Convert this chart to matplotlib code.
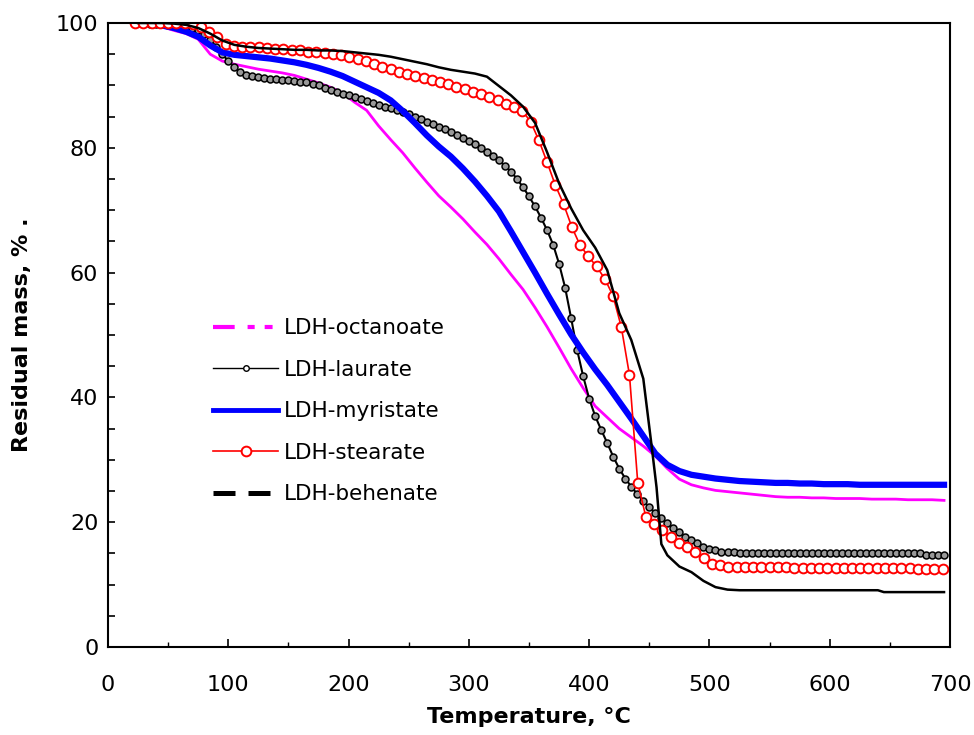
import matplotlib.pyplot as plt
from matplotlib.lines import Line2D
from matplotlib.ticker import MultipleLocator

# LDH-octanoate
oct_temp = [25, 35, 45, 55, 65, 75, 85, 95, 105, 115, 125, 135, 145, 155, 165, 175, 185, 195,
            205, 215, 225, 235, 245, 255, 265, 275, 285, 295, 305, 315, 325, 335, 345, 355,
            365, 375, 385, 395, 405, 415, 425, 435, 445, 455, 465, 475, 485, 495, 505, 515,
            525, 535, 545, 555, 565, 575, 585, 595, 605, 615, 625, 635, 645, 655, 665, 675,
            685, 695]
oct_mass = [100, 99.9, 99.4, 98.8, 98.3, 97.4, 95.0, 93.9, 93.4, 93.0, 92.6, 92.3, 92.0, 91.6,
            91.0, 90.4, 89.7, 88.8, 87.3, 86.0, 83.5, 81.3, 79.2, 76.8, 74.5, 72.3, 70.5, 68.6,
            66.5, 64.5, 62.2, 59.7, 57.3, 54.4, 51.3, 48.0, 44.6, 41.5, 38.6, 36.8, 35.0, 33.6,
            32.2, 30.6, 28.6, 26.9, 26.0, 25.5, 25.1, 24.9, 24.7, 24.5, 24.3, 24.1, 24.0, 24.0,
            23.9, 23.9, 23.8, 23.8, 23.8, 23.7, 23.7, 23.7, 23.6, 23.6, 23.6, 23.5]

# LDH-laurate
lau_temp = [25, 30, 35, 40, 45, 50, 55, 60, 65, 70, 75, 80, 85, 90, 95, 100, 105, 110, 115, 120,
            125, 130, 135, 140, 145, 150, 155, 160, 165, 170, 175, 180, 185, 190, 195, 200, 205,
            210, 215, 220, 225, 230, 235, 240, 245, 250, 255, 260, 265, 270, 275, 280, 285, 290,
            295, 300, 305, 310, 315, 320, 325, 330, 335, 340, 345, 350, 355, 360, 365, 370, 375,
            380, 385, 390, 395, 400, 405, 410, 415, 420, 425, 430, 435, 440, 445, 450, 455, 460,
            465, 470, 475, 480, 485, 490, 495, 500, 505, 510, 515, 520, 525, 530, 535, 540, 545,
            550, 555, 560, 565, 570, 575, 580, 585, 590, 595, 600, 605, 610, 615, 620, 625, 630,
            635, 640, 645, 650, 655, 660, 665, 670, 675, 680, 685, 690, 695]
lau_mass = [100, 100, 99.9, 99.9, 99.8, 99.7, 99.6, 99.5, 99.4, 99.2, 98.8, 98.2, 97.3, 96.2,
            95.0, 93.9, 92.9, 92.1, 91.7, 91.5, 91.3, 91.2, 91.1, 91.0, 90.9, 90.8, 90.7, 90.6,
            90.5, 90.3, 90.0, 89.6, 89.3, 89.0, 88.7, 88.4, 88.1, 87.8, 87.5, 87.2, 86.9, 86.6,
            86.3, 86.0, 85.7, 85.4, 85.0, 84.6, 84.2, 83.8, 83.4, 83.0, 82.6, 82.1, 81.6, 81.1,
            80.6, 80.0, 79.4, 78.7, 78.0, 77.1, 76.2, 75.0, 73.7, 72.2, 70.6, 68.8, 66.8, 64.5,
            61.4, 57.6, 52.7, 47.6, 43.4, 39.8, 37.0, 34.8, 32.7, 30.5, 28.6, 27.0, 25.7, 24.5,
            23.4, 22.4, 21.5, 20.6, 19.8, 19.1, 18.4, 17.7, 17.1, 16.6, 16.1, 15.7, 15.5, 15.3,
            15.2, 15.2, 15.1, 15.1, 15.1, 15.1, 15.1, 15.1, 15.1, 15.1, 15.1, 15.1, 15.1, 15.1,
            15.1, 15.1, 15.1, 15.1, 15.1, 15.1, 15.1, 15.1, 15.1, 15.1, 15.1, 15.1, 15.1, 15.1,
            15.1, 15.1, 15.1, 15.1, 15.0, 14.8, 14.8, 14.8, 14.7]

# LDH-myristate
myr_temp = oct_temp
myr_mass = [100, 99.9, 99.6, 99.2, 98.6, 97.8, 96.4, 95.3, 94.9, 94.7, 94.5, 94.3, 94.0, 93.7,
            93.3, 92.8, 92.2, 91.5, 90.6, 89.7, 88.8, 87.6, 85.9, 84.0, 82.0, 80.2, 78.6, 76.7,
            74.6, 72.3, 69.8, 66.6, 63.3, 60.0, 56.6, 53.3, 50.1, 47.2, 44.5, 42.0, 39.3, 36.6,
            33.8, 31.0, 29.2, 28.2, 27.6, 27.3, 27.0, 26.8, 26.6, 26.5, 26.4, 26.3, 26.3, 26.2,
            26.2, 26.1, 26.1, 26.1, 26.0, 26.0, 26.0, 26.0, 26.0, 26.0, 26.0, 26.0]

# LDH-stearate
ste_temp = [22.5, 29.4, 36.2, 43.1, 49.9, 56.8, 63.6, 70.5, 77.3, 84.2, 91.0, 97.9, 104.7, 111.6,
            118.4, 125.3, 132.1, 139.0, 145.8, 152.7, 159.5, 166.4, 173.2, 180.1, 186.9, 193.8,
            200.6, 207.5, 214.3, 221.2, 228.0, 234.9, 241.7, 248.6, 255.4, 262.3, 269.1, 276.0,
            282.8, 289.7, 296.5, 303.4, 310.2, 317.1, 323.9, 330.8, 337.6, 344.5, 351.3, 358.2,
            365.0, 371.9, 378.7, 385.6, 392.4, 399.3, 406.1, 413.0, 419.8, 426.7, 433.5, 440.4,
            447.2, 454.1, 460.9, 467.8, 474.6, 481.5, 488.3, 495.2, 502.0, 508.9, 515.7, 522.6,
            529.4, 536.3, 543.1, 550.0, 556.8, 563.7, 570.5, 577.4, 584.2, 591.1, 597.9, 604.8,
            611.6, 618.5, 625.3, 632.2, 639.0, 645.9, 652.7, 659.6, 666.4, 673.3, 680.1, 687.0,
            693.8]
ste_mass = [100, 100, 100, 100, 100, 100, 100, 99.8, 99.4, 98.6, 97.7, 96.7, 96.3, 96.2, 96.2,
            96.1, 96.0, 95.9, 95.8, 95.7, 95.6, 95.4, 95.3, 95.2, 95.1, 94.9, 94.6, 94.3, 93.9,
            93.4, 93.0, 92.6, 92.2, 91.8, 91.5, 91.2, 90.9, 90.6, 90.2, 89.8, 89.4, 89.0, 88.6,
            88.1, 87.6, 87.0, 86.6, 85.9, 84.2, 81.2, 77.7, 74.0, 71.0, 67.3, 64.4, 62.6, 61.0,
            59.0, 56.3, 51.3, 43.6, 26.3, 20.8, 19.7, 18.8, 17.6, 16.7, 16.0, 15.2, 14.3, 13.3,
            13.1, 12.9, 12.8, 12.8, 12.8, 12.8, 12.8, 12.8, 12.8, 12.7, 12.7, 12.7, 12.7, 12.7,
            12.7, 12.7, 12.7, 12.7, 12.6, 12.6, 12.6, 12.6, 12.6, 12.6, 12.5, 12.5, 12.5, 12.5]

# LDH-behenate
beh_temp = [25, 35, 45, 55, 65, 75, 85, 95, 105, 115, 125, 135, 145, 155, 165, 175, 185, 195,
            205, 215, 225, 235, 245, 255, 265, 275, 285, 295, 305, 315, 325, 335, 345, 355,
            365, 375, 385, 395, 405, 415, 425, 435, 445, 452, 456, 460, 465, 475, 485, 495,
            505, 515, 525, 545, 565, 585, 605, 625, 640, 645, 665, 685, 695]
beh_mass = [100, 100, 100, 99.9, 99.7, 99.2, 98.3, 97.2, 96.5, 96.2, 96.0, 95.9, 95.8, 95.7,
            95.7, 95.6, 95.6, 95.5, 95.3, 95.1, 94.9, 94.6, 94.2, 93.8, 93.4, 92.9, 92.5, 92.2,
            91.9, 91.4, 89.9, 88.4, 86.6, 84.0, 79.3, 74.3, 70.3, 66.8, 64.0, 60.4, 53.5, 49.2,
            43.0, 32.1, 25.6, 16.5, 14.7, 12.9, 12.0, 10.6, 9.6, 9.2, 9.1, 9.1, 9.1, 9.1, 9.1,
            9.1, 9.1, 8.8, 8.8, 8.8, 8.8]

labels = ['LDH-octanoate', 'LDH-laurate', 'LDH-myristate', 'LDH-stearate', 'LDH-behenate']

fig = plt.figure(figsize=(9.74, 7.35), dpi=100)
ax = fig.add_axes([0.1109, 0.1197, 0.8645, 0.849])

ax.plot(oct_temp, oct_mass, color='#ff00ff', lw=2)
ax.plot(lau_temp, lau_mass, color='black', lw=1.5, marker='o', ms=5,
        mfc='#999999', mec='black', mew=1.1)
ax.plot(myr_temp, myr_mass, color='#0000ff', lw=4.5)
ax.plot(ste_temp, ste_mass, color='red', lw=1.2, marker='o', ms=7,
        mfc='white', mec='red', mew=1.4)
ax.plot(beh_temp, beh_mass, color='black', lw=1.8)

ax.set_xlim(0, 700)
ax.set_ylim(0, 100)
ax.xaxis.set_major_locator(MultipleLocator(100))
ax.xaxis.set_minor_locator(MultipleLocator(50))
ax.yaxis.set_major_locator(MultipleLocator(20))
ax.yaxis.set_minor_locator(MultipleLocator(5))
ax.tick_params(axis='x', which='major', direction='in', length=6, width=1.2, pad=20, labelsize=16)
ax.tick_params(axis='x', which='minor', direction='in', length=3.5, width=1)
ax.tick_params(axis='y', which='both', direction='in', length=5, width=1.2, pad=7, labelsize=16)
for s in ax.spines.values():
    s.set_linewidth(1.5)

ax.set_xlabel('Temperature, °C', fontsize=16, fontweight='bold', labelpad=9)
ax.set_ylabel('Residual mass, % .', fontsize=16, fontweight='bold')
ax.yaxis.set_label_coords(-0.09, 0.5)

handles = [
    Line2D([], [], color='#ff00ff', lw=3, dashes=[5.2, 3.1, 1.7, 2.4, 1.9, 2.4]),
    Line2D([], [], color='black', lw=1, marker='o', ms=4, mfc='white', mec='black', mew=1),
    Line2D([], [], color='#0000ff', lw=3.5),
    Line2D([], [], color='red', lw=1.2, marker='o', ms=7, mfc='white', mec='red', mew=1.4),
    Line2D([], [], color='black', lw=3.6, dashes=[4.4, 2.6]),
]
ax.legend(handles, labels, loc='center left', bbox_to_anchor=(0.125, 0.378), frameon=False,
          fontsize=15.5, handlelength=3.0, handletextpad=0.3, labelspacing=1.0,
          borderpad=0, borderaxespad=0)

plt.savefig('out.png', dpi=100)
